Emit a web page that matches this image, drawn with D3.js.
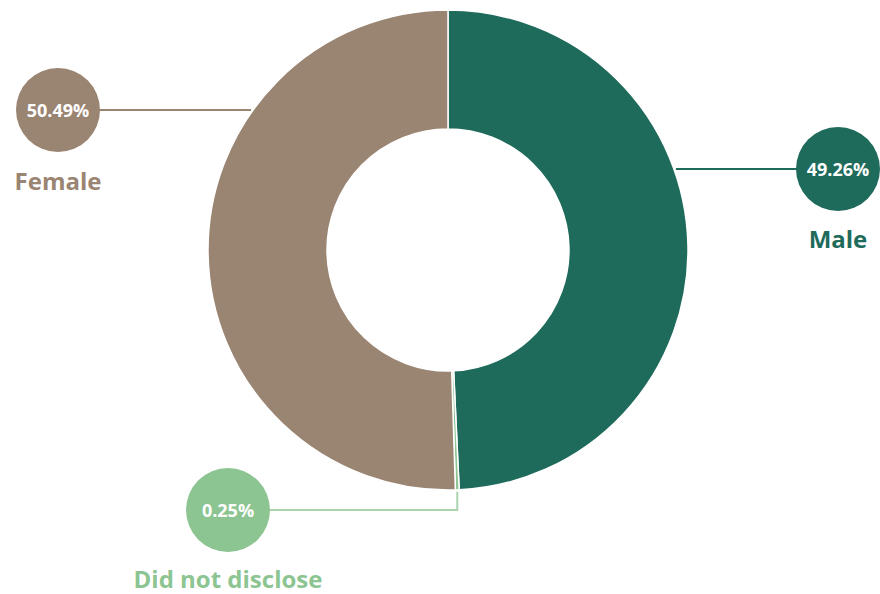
<!DOCTYPE html>
<html>
<head>
<meta charset="utf-8">
<script src="https://cdn.jsdelivr.net/npm/d3@7"></script>
<style>
  html, body { margin: 0; padding: 0; background: #fff; }
  svg { display: block; }
</style>
</head>
<body>
<svg id="chart" width="880" height="594"></svg>
<script>
// Gender breakdown (percent)
const categories = ["Male", "Did not disclose", "Female"];
const values = [49.26, 0.25, 50.49];
const valueLabels = ["49.26%", "0.25%", "50.49%"];
const colors = ["#1e6a5b", "#8cc592", "#9a8472"];
const lineColors = ["#1e6a5b", "#a9d4ad", "#9a8472"];

const W = 880, H = 594;
const cx = 448, cy = 250;
const outerR = 240, innerR = 121;

const svg = d3.select("#chart");
const g = svg.append("g").attr("transform", `translate(${cx},${cy})`);

const pie = d3.pie().sort(null).value(d => d)(values);
const arc = d3.arc().innerRadius(innerR).outerRadius(outerR);

g.selectAll("path.slice")
  .data(pie)
  .join("path")
  .attr("class", "slice")
  .attr("d", arc)
  .attr("fill", (d, i) => colors[i])
  .attr("stroke", "#fff")
  .attr("stroke-width", 1.5);

// Callout layout: bubble centre, label baseline, and where the leader meets the ring
const callouts = [
  { bx: 838, by: 169, labelY: 248, kind: "side", lineY: 169 },
  { bx: 228, by: 510, labelY: 588, kind: "bottom" },
  { bx: 58, by: 110, labelY: 190, kind: "side", lineY: 110 }
];
const bubbleR = 42;
const font = "'Open Sans', Lato, sans-serif";

callouts.forEach((c, i) => {
  const col = lineColors[i];
  let pts;
  if (c.kind === "side") {
    const dy = c.lineY - cy;
    const dx = Math.sqrt(outerR * outerR - dy * dy);
    const sx = c.bx > cx ? cx + dx + 2 : cx - dx - 2;
    pts = [[sx, c.lineY], [c.bx, c.by]];
  } else {
    const mid = (pie[i].startAngle + pie[i].endAngle) / 2;
    const ax = cx + Math.sin(mid) * outerR;
    const ay = cy - Math.cos(mid) * outerR;
    pts = [[ax, ay + 2], [ax, c.by], [c.bx, c.by]];
  }
  svg.append("path")
    .attr("d", d3.line()(pts))
    .attr("fill", "none")
    .attr("stroke", col)
    .attr("stroke-width", 2);

  svg.append("circle")
    .attr("cx", c.bx).attr("cy", c.by).attr("r", bubbleR)
    .attr("fill", colors[i]);

  svg.append("text")
    .attr("x", c.bx).attr("y", c.by + 6.5)
    .attr("text-anchor", "middle")
    .attr("font-family", font)
    .attr("font-weight", 700)
    .attr("font-size", 18)
    .attr("fill", "#fff")
    .text(valueLabels[i]);

  svg.append("text")
    .attr("x", c.bx).attr("y", c.labelY)
    .attr("text-anchor", "middle")
    .attr("font-family", font)
    .attr("font-weight", 700)
    .attr("font-size", 24)
    .attr("fill", colors[i])
    .text(categories[i]);
});
</script>
</body>
</html>
